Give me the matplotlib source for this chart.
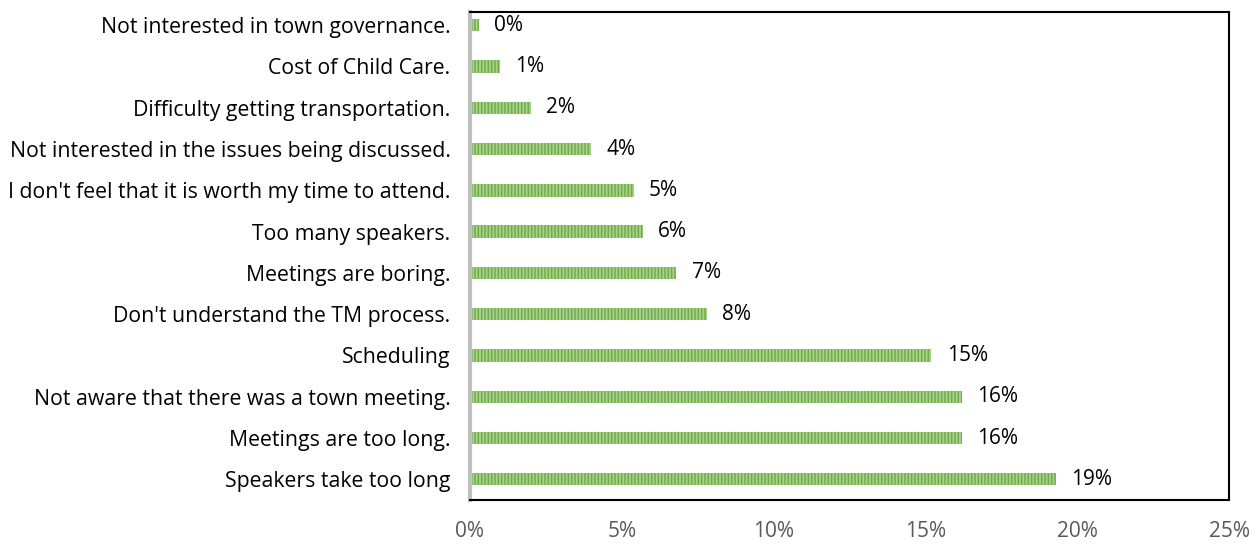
import matplotlib.pyplot as plt

# Datos (de abajo hacia arriba)
categorias = [
    'Speakers take too long',
    'Meetings are too long.',
    'Not aware that there was a town meeting.',
    'Scheduling',
    "Don't understand the TM process.",
    'Meetings are boring.',
    'Too many speakers.',
    "I don't feel that it is worth my time to attend.",
    'Not interested in the issues being discussed.',
    'Difficulty getting transportation.',
    'Cost of Child Care.',
    'Not interested in town governance.',
]
valores = [19.3, 16.2, 16.2, 15.2, 7.8, 6.8, 5.7, 5.4, 4.0, 2.0, 1.0, 0.3]
etiquetas = ['19%', '16%', '16%', '15%', '8%', '7%', '6%', '5%', '4%', '2%', '1%', '0%']
ticks_x = [0, 5, 10, 15, 20, 25]

plt.rcParams['font.family'] = ['Open Sans', 'DejaVu Sans']
plt.rcParams['hatch.linewidth'] = 1.1

fig = plt.figure(figsize=(12.6, 5.44), dpi=100)
ax = fig.add_axes([0.373, 0.081, 0.6024, 0.897])

y = range(len(categorias))
ax.barh(y, valores, height=0.3, color='#A9D18E', edgecolor='#70AD47',
        linewidth=0, hatch='|||||')

for yi, v, t in zip(y, valores, etiquetas):
    ax.text(v + 0.5, yi, t, va='center', ha='left', fontsize=15, color='black')

ax.set_xlim(0, 25)
ax.set_ylim(-0.5, len(categorias) - 0.68)
ax.set_yticks(list(y))
ax.set_yticklabels(categorias, fontsize=15.3, color='black')
ax.set_xticks(ticks_x)
ax.set_xticklabels([f'{t}%' for t in ticks_x], fontsize=15, color='#595959')
ax.tick_params(axis='both', length=0)
ax.tick_params(axis='x', pad=15)
ax.tick_params(axis='y', pad=14)

for s in ['top', 'right', 'bottom']:
    ax.spines[s].set_color('black')
    ax.spines[s].set_linewidth(1.5)
ax.spines['left'].set_color('#BFBFBF')
ax.spines['left'].set_linewidth(3)

plt.savefig('out.png', dpi=100)
